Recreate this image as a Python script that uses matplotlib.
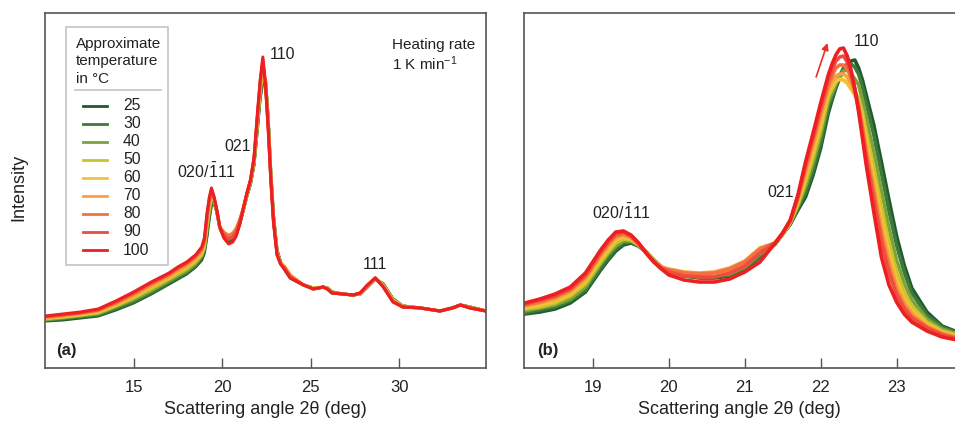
import matplotlib
matplotlib.use("Agg")
import matplotlib.pyplot as plt
from matplotlib.patches import Rectangle

plt.rcParams['font.family'] = ['Liberation Sans', 'DejaVu Sans']
plt.rcParams['mathtext.fontset'] = 'custom'
plt.rcParams['mathtext.rm'] = 'Liberation Sans'
plt.rcParams['mathtext.it'] = 'Liberation Sans:italic'
plt.rcParams['mathtext.bf'] = 'Liberation Sans:bold'

temps = [25, 30, 40, 50, 60, 70, 80, 90, 100]
colors = ['#1f5b2e', '#3b7a3b', '#7da23a', '#c9c427', '#f0c43a',
          '#f5a33a', '#f47040', '#ef4b3e', '#ec2020']

# full scan, 2theta in degrees
two_theta_full = [10, 11, 12, 13, 14, 15, 16, 17, 17.5, 18, 18.5, 18.85,
                  19.0, 19.15, 19.28, 19.4, 19.55, 19.7, 19.87, 20.1, 20.37,
                  20.6, 20.8, 21.0, 21.2, 21.4, 21.6, 21.8, 22.0, 22.15, 22.3,
                  22.45, 22.6, 22.75, 22.9, 23.1, 23.3, 23.55, 23.85, 24.6,
                  25.15, 25.45, 25.7, 25.95, 26.2, 26.8, 27.4, 27.8, 28.2,
                  28.65, 29.1, 29.65, 30.2, 31.2, 32.3, 33.0, 33.45, 34.0, 34.9]

full_25 = [47, 48, 50, 52, 58, 65, 74, 84, 89, 94, 101, 108, 115, 132, 150,
           163, 165, 156, 140, 131, 127, 129, 134, 144, 158, 172, 184, 203,
           240, 270, 286, 288, 250, 196, 153, 118, 106, 98, 90, 83, 80, 80,
           81, 80, 76, 74, 73, 74, 81, 89, 84, 69, 62, 60, 57, 60, 63, 61, 57]
full_30 = [48, 49, 51, 53, 59, 66, 75, 85, 90, 95, 102, 110, 117, 135, 153,
           165, 166, 156, 140, 132, 128, 130, 135, 145, 158, 172, 184, 204,
           242, 272, 289, 287, 249, 195, 152, 117, 106, 98, 90, 83, 80, 80,
           81, 80, 76, 74, 73, 74, 81, 89, 84, 69, 62, 60, 57, 60, 63, 61, 57]
full_40 = [48, 50, 52, 54, 61, 68, 77, 87, 92, 97, 104, 112, 119, 138, 156,
           168, 167, 157, 140, 133, 129, 131, 136, 146, 159, 173, 185, 205,
           244, 275, 293, 287, 247, 194, 151, 117, 105, 99, 91, 83, 80, 80,
           81, 80, 76, 74, 73, 74, 81, 89, 83, 68, 62, 60, 57, 60, 63, 61, 57]
full_50 = [49, 51, 53, 55, 62, 70, 79, 89, 94, 99, 106, 113, 121, 142, 159,
           170, 168, 157, 140, 134, 131, 133, 138, 147, 159, 173, 186, 206,
           247, 278, 296, 286, 246, 193, 150, 116, 105, 100, 92, 83, 80, 80,
           81, 80, 76, 74, 73, 74, 82, 89, 83, 68, 62, 60, 57, 60, 63, 61, 57]
full_60 = [50, 51, 53, 56, 63, 71, 81, 90, 96, 101, 108, 115, 123, 145, 162,
           173, 168, 157, 141, 135, 132, 134, 139, 148, 159, 174, 186, 207,
           249, 280, 300, 285, 244, 192, 149, 115, 105, 101, 93, 83, 80, 80,
           81, 79, 75, 74, 73, 75, 82, 90, 83, 68, 61, 60, 57, 60, 63, 60, 57]
full_70 = [50, 52, 54, 57, 64, 72, 82, 91, 97, 102, 109, 117, 125, 148, 164,
           175, 169, 157, 141, 136, 133, 135, 140, 149, 160, 174, 187, 208,
           251, 282, 303, 285, 243, 191, 148, 115, 105, 101, 93, 83, 79, 80,
           81, 79, 75, 74, 73, 75, 82, 90, 82, 67, 61, 60, 57, 60, 63, 60, 57]
full_80 = [51, 53, 55, 58, 65, 74, 84, 93, 99, 104, 111, 118, 127, 150, 167,
           177, 170, 158, 141, 135, 132, 134, 139, 148, 160, 174, 187, 209,
           253, 284, 306, 284, 242, 190, 147, 114, 104, 100, 92, 83, 79, 80,
           81, 79, 75, 74, 73, 75, 82, 90, 82, 67, 61, 60, 57, 60, 63, 60, 57]
full_90 = [51, 53, 55, 58, 66, 75, 85, 94, 100, 105, 112, 120, 128, 153, 169,
           178, 170, 158, 141, 133, 129, 131, 136, 146, 160, 175, 188, 209,
           254, 286, 308, 283, 241, 189, 147, 114, 104, 99, 91, 83, 79, 80,
           81, 79, 75, 74, 73, 75, 83, 90, 81, 66, 61, 60, 57, 60, 63, 60, 57]
full_100 = [52, 54, 56, 59, 67, 76, 86, 95, 101, 106, 113, 121, 130, 155, 171,
            180, 171, 158, 141, 130, 124, 126, 132, 144, 160, 175, 188, 210,
            256, 288, 311, 283, 240, 188, 146, 113, 104, 98, 90, 83, 79, 80,
            81, 79, 75, 74, 73, 75, 83, 90, 81, 66, 61, 60, 57, 60, 63, 60, 57]

# close-up around the 020/-111 and 110 reflections
two_theta_zoom = [18.1, 18.3, 18.5, 18.7, 18.9, 19.1, 19.2, 19.3, 19.4, 19.5,
                  19.6, 19.7, 19.8, 19.9, 20.0, 20.2, 20.4, 20.6, 20.8, 21.0,
                  21.2, 21.4, 21.5, 21.6, 21.7, 21.8, 21.9, 22.0, 22.1, 22.15,
                  22.2, 22.25, 22.3, 22.35, 22.4, 22.45, 22.5, 22.55, 22.6,
                  22.7, 22.8, 22.9, 23.0, 23.1, 23.2, 23.4, 23.6, 23.8]

zoom_25 = [54, 56, 59, 65, 76, 98, 108, 117, 123, 125, 122, 116, 108, 101, 97,
           92, 90, 90, 92, 98, 111, 124, 134, 144, 158, 171, 193, 220, 255,
           268, 280, 290, 298, 303, 307, 308, 300, 288, 273, 243, 206, 168,
           132, 103, 80, 56, 42, 36]
zoom_30 = [55, 58, 61, 67, 78, 100, 110, 119, 125, 126, 122, 116, 108, 101, 97,
           93, 91, 91, 93, 99, 112, 124, 134, 144, 160, 175, 198, 225, 260,
           271, 282, 292, 300, 304, 304, 301, 294, 281, 265, 233, 195, 157,
           123, 96, 75, 53, 41, 35]
zoom_40 = [57, 60, 63, 69, 81, 104, 114, 122, 127, 127, 123, 116, 108, 101, 98,
           93, 91, 92, 94, 101, 114, 124, 134, 145, 162, 181, 205, 233, 266,
           275, 284, 291, 297, 298, 294, 289, 283, 268, 250, 216, 177, 140,
           108, 85, 68, 49, 39, 34]
zoom_50 = [59, 61, 65, 72, 84, 106, 116, 125, 129, 128, 123, 116, 107, 101, 98,
           94, 92, 93, 96, 103, 116, 125, 134, 146, 164, 186, 211, 239, 271,
           279, 286, 289, 288, 285, 280, 276, 270, 256, 236, 200, 161, 125,
           96, 76, 62, 46, 37, 33]
zoom_60 = [60, 63, 67, 74, 87, 109, 119, 128, 131, 129, 124, 116, 107, 101, 98,
           95, 94, 95, 98, 105, 118, 125, 134, 146, 166, 191, 217, 245, 275,
           282, 287, 289, 288, 285, 279, 273, 266, 250, 228, 190, 150, 116,
           88, 70, 58, 44, 36, 32]
zoom_70 = [62, 65, 69, 76, 89, 112, 122, 130, 133, 130, 124, 116, 107, 101, 99,
           96, 95, 96, 100, 107, 120, 125, 135, 147, 168, 195, 222, 251, 279,
           286, 292, 294, 294, 291, 284, 275, 264, 244, 221, 182, 141, 108,
           82, 66, 55, 42, 35, 31]
zoom_80 = [63, 66, 71, 78, 91, 114, 124, 132, 134, 131, 124, 115, 107, 100, 98,
           95, 94, 95, 99, 106, 119, 125, 135, 147, 170, 199, 227, 256, 283,
           292, 300, 303, 303, 299, 290, 278, 262, 240, 215, 175, 133, 101,
           77, 62, 52, 41, 34, 30]
zoom_90 = [64, 68, 72, 79, 93, 116, 126, 134, 136, 132, 125, 115, 106, 100, 96,
           92, 91, 91, 95, 102, 115, 125, 135, 148, 172, 203, 231, 261, 288,
           298, 307, 311, 312, 306, 295, 279, 259, 235, 210, 168, 126, 95,
           73, 59, 50, 40, 33, 29]
zoom_100 = [65, 69, 74, 81, 95, 118, 128, 136, 137, 133, 125, 115, 106, 99, 93,
            88, 86, 86, 89, 96, 106, 125, 135, 148, 173, 206, 235, 265, 293,
            304, 313, 319, 320, 312, 298, 279, 256, 230, 203, 156, 111, 83,
            66, 54, 46, 37, 31, 28]

full_scans = [full_25, full_30, full_40, full_50, full_60, full_70, full_80,
              full_90, full_100]
zoom_scans = [zoom_25, zoom_30, zoom_40, zoom_50, zoom_60, zoom_70, zoom_80,
              zoom_90, zoom_100]

SPINE = '#555555'
TEXT = '#222222'
BOX = '#c4c4c4'


def style_axis(ax):
    for side in ['top', 'bottom', 'left', 'right']:
        ax.spines[side].set_color(SPINE)
        ax.spines[side].set_linewidth(1.2)
    ax.set_yticks([])
    ax.tick_params(axis='x', direction='in', length=7, width=1.0,
                   color=SPINE, labelsize=12, labelcolor=TEXT, pad=9,
                   top=False)
    ax.set_ylim(0, 355)
    ax.set_xlabel('Scattering angle 2θ (deg)', fontsize=13, color=TEXT)
    ax.xaxis.set_label_coords(0.5, -0.094)


fig = plt.figure(figsize=(9.55, 4.21), dpi=100)
ax1 = fig.add_axes([45 / 955, 53 / 421, 441 / 955, 355 / 421])
ax2 = fig.add_axes([524 / 955, 53 / 421, 431 / 955, 355 / 421])

# (a) full pattern
for t, c, scan in zip(temps, colors, full_scans):
    ax1.plot(two_theta_full, scan, color=c, lw=2.2, solid_joinstyle='round')
ax1.set_xlim(10, 34.9)
ax1.set_xticks([15, 20, 25, 30])
style_axis(ax1)
ax1.set_ylabel('Intensity', fontsize=13, color=TEXT)
ax1.yaxis.set_label_coords(-0.04, 0.51)

# temperature key, laid out in axes fractions
ta = ax1.transAxes
ax1.add_patch(Rectangle((0.0476, 0.290), 0.2313, 0.6706, transform=ta,
                        facecolor='white', edgecolor=BOX, lw=1.2, zorder=5))
for line, yb in zip(['Approximate', 'temperature', 'in °C'],
                    [0.9014, 0.8535, 0.8028]):
    ax1.text(0.0703, yb, line, transform=ta, ha='left', va='baseline',
             fontsize=11, color=TEXT, zorder=6)
ax1.plot([0.068, 0.263], [0.7831, 0.7831], transform=ta, color=BOX, lw=1.2,
         zorder=6)
for i, (t, c) in enumerate(zip(temps, colors)):
    yc = (368 - (105.7 + i * 18.04)) / 355
    ax1.plot([0.0862, 0.1406], [yc, yc], transform=ta, color=c, lw=2.0,
             zorder=6)
    ax1.text(0.1769, yc, str(t), transform=ta, ha='left', va='center',
             fontsize=11.3, color=TEXT, zorder=6)

ax1.text(19.11, 190, r'020/$\bar{1}$11', ha='center', va='baseline',
         fontsize=11.5, color=TEXT)
ax1.text(20.85, 217, '021', ha='center', va='baseline', fontsize=11.5,
         color=TEXT)
ax1.text(23.40, 309, '110', ha='center', va='baseline', fontsize=11.5,
         color=TEXT)
ax1.text(28.65, 99, '111', ha='center', va='baseline', fontsize=11.5,
         color=TEXT)
ax1.text(0.787, 0.91, 'Heating rate', transform=ta, ha='left',
         va='center', fontsize=11, color=TEXT)
ax1.text(0.787, 0.858, '1 K min$^{-1}$', transform=ta, ha='left',
         va='center', fontsize=11, color=TEXT)
ax1.text(0.025, 0.048, '(a)', transform=ta, ha='left',
         va='center', fontsize=12, fontweight='bold', color=TEXT)

# (b) close-up of the main reflections
for t, c, scan in zip(temps, colors, zoom_scans):
    ax2.plot(two_theta_zoom, scan, color=c, lw=2.6, solid_joinstyle='round')
ax2.set_xlim(18.09, 23.77)
ax2.set_xticks([19, 20, 21, 22, 23])
style_axis(ax2)
ax2.spines['right'].set_visible(False)

ax2.text(19.38, 149, r'020/$\bar{1}$11', ha='center', va='baseline',
         fontsize=11.5, color=TEXT)
ax2.text(21.47, 171, '021', ha='center', va='baseline', fontsize=11.5,
         color=TEXT)
ax2.text(22.60, 322, '110', ha='center', va='baseline', fontsize=11.5,
         color=TEXT)
ax2.annotate('', xy=(22.09, 325), xytext=(21.94, 291),
             arrowprops=dict(arrowstyle='-|>', color='#e8302a', lw=1.2,
                             mutation_scale=10, shrinkA=0, shrinkB=0))
ax2.text(0.03, 0.048, '(b)', transform=ax2.transAxes, ha='left',
         va='center', fontsize=12, fontweight='bold', color=TEXT)

fig.savefig('out.png', dpi=100)
